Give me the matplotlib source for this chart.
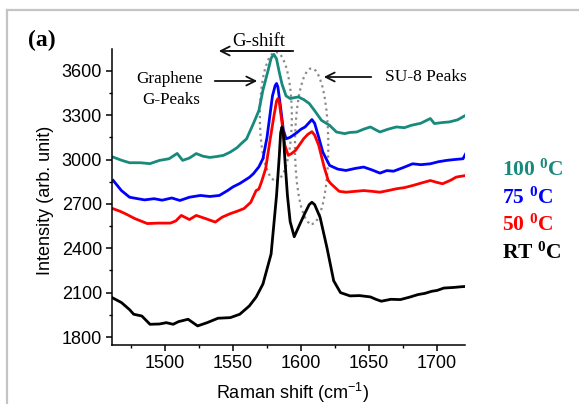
import matplotlib
matplotlib.use("Agg")
import matplotlib.pyplot as plt
from matplotlib.patches import Ellipse
from matplotlib.lines import Line2D
from matplotlib.ticker import MultipleLocator, AutoMinorLocator

plt.rcParams['font.family'] = ['Liberation Sans', 'DejaVu Sans']
plt.rcParams['mathtext.fontset'] = 'custom'
plt.rcParams['mathtext.rm'] = 'Liberation Sans'
plt.rcParams['mathtext.bf'] = 'Liberation Serif:bold'

# Raman spectra (shift in cm-1, intensity in arb. unit)
x_100 = [1462, 1468, 1474, 1482, 1489, 1496, 1503, 1509, 1513, 1518, 1523, 1528, 1533, 1538,
         1543, 1548, 1553, 1556, 1560, 1565, 1569, 1572, 1576, 1578, 1580, 1582, 1584, 1586,
         1589, 1592, 1595, 1598, 1602, 1606, 1610, 1615, 1621, 1626, 1632, 1636, 1641, 1646,
         1651, 1655, 1658, 1664, 1670, 1676, 1681, 1688, 1695, 1698, 1704, 1709, 1715, 1721]
y_100 = [3016, 2995, 2978, 2978, 2972, 2994, 3005, 3041, 2994, 3010, 3040, 3022, 3014, 3020,
         3028, 3050, 3080, 3107, 3140, 3243, 3330, 3469, 3610, 3685, 3711, 3680, 3590, 3510,
         3430, 3412, 3418, 3423, 3405, 3379, 3330, 3265, 3231, 3186, 3175, 3183, 3186, 3205,
         3220, 3200, 3186, 3205, 3220, 3215, 3231, 3245, 3277, 3243, 3250, 3254, 3268, 3299]

x_75 = [1462, 1468, 1474, 1480, 1485, 1492, 1498, 1505, 1511, 1518, 1526, 1533, 1540, 1546,
        1550, 1555, 1562, 1565, 1569, 1572, 1575, 1577, 1579, 1581, 1582, 1583, 1585, 1587,
        1589, 1592, 1597, 1600, 1603, 1606, 1608, 1610, 1613, 1616, 1621, 1627, 1633, 1640,
        1646, 1652, 1658, 1663, 1668, 1675, 1682, 1688, 1695, 1701, 1707, 1713, 1719, 1721]
y_75 = [2858, 2790, 2745, 2735, 2727, 2735, 2725, 2740, 2723, 2745, 2757, 2750, 2757, 2790,
        2815, 2838, 2879, 2904, 2950, 3006, 3150, 3290, 3430, 3500, 3514, 3490, 3350, 3200,
        3140, 3150, 3182, 3205, 3220, 3250, 3270, 3245, 3150, 3050, 2960, 2935, 2926, 2940,
        2949, 2930, 2908, 2925, 2921, 2945, 2971, 2965, 2971, 2985, 2994, 3000, 3005, 3039]

x_50 = [1462, 1467, 1471, 1478, 1487, 1495, 1504, 1508, 1512, 1518, 1523, 1530, 1537, 1542,
        1548, 1553, 1558, 1563, 1567, 1569, 1571, 1574, 1577, 1580, 1582, 1583, 1584, 1586,
        1588, 1590.6, 1593, 1596, 1602, 1605, 1608, 1610, 1613, 1617, 1620, 1622, 1628, 1633,
        1640, 1646, 1652, 1658, 1664, 1670, 1676, 1682, 1688, 1695, 1700, 1704, 1710, 1714, 1721]
y_50 = [2667, 2650, 2633, 2600, 2567, 2570, 2570, 2585, 2622, 2594, 2622, 2600, 2577, 2610,
        2634, 2650, 2668, 2710, 2790, 2800, 2850, 2938, 3118, 3290, 3395, 3412, 3390, 3250,
        3100, 3028, 3040, 3062, 3141, 3170, 3188, 3165, 3096, 2949, 2858, 2836, 2785, 2779,
        2785, 2790, 2785, 2779, 2790, 2802, 2810, 2824, 2840, 2858, 2845, 2836, 2860, 2881, 2892]

x_rt = [1461, 1468, 1474, 1477, 1483, 1489, 1496, 1501, 1506, 1510, 1517, 1524, 1531, 1539,
        1548, 1555, 1562, 1567, 1572, 1578, 1582, 1584, 1585, 1586, 1587, 1588, 1590, 1592,
        1595, 1599, 1603, 1606, 1608, 1610, 1614, 1619, 1624, 1629, 1636, 1643, 1651, 1655,
        1659, 1666, 1673, 1680, 1686, 1691, 1696, 1700, 1705, 1712, 1718, 1723]
y_rt = [2067, 2033, 1985, 1954, 1942, 1886, 1888, 1897, 1886, 1904, 1920, 1875, 1897, 1927,
        1931, 1954, 2010, 2070, 2158, 2361, 2757, 3020, 3180, 3220, 3180, 3020, 2757, 2580,
        2478, 2560, 2640, 2695, 2711, 2695, 2609, 2406, 2180, 2100, 2078, 2080, 2071, 2055,
        2042, 2055, 2053, 2070, 2087, 2095, 2109, 2115, 2131, 2135, 2140, 2143]

labels = ['100', '75', '50', 'RT']
colors = ['#178a7c', '#0000ff', '#ff0000', '#000000']

W, H = 579, 404
fig = plt.figure(figsize=(W / 100, H / 100), dpi=100)
ax = fig.add_axes([112.3 / W, 1 - 345 / H, (465 - 112.3) / W, (345 - 49.3) / H])


def fpos(px, py):
    return px / W, 1 - py / H


for xs, ys, c in zip([x_100, x_75, x_50, x_rt], [y_100, y_75, y_50, y_rt], colors):
    ax.plot(xs, ys, color=c, lw=2.0, solid_joinstyle='round')

# dotted ellipses around the G and SU-8 peaks
ax.add_patch(Ellipse((1581.5, 3292), 23.5, 868, fill=False, ec='#8a8a8a', ls=':', lw=1.6))
ax.add_patch(Ellipse((1607.8, 3090), 24.5, 1052, fill=False, ec='#8a8a8a', ls=':', lw=1.6))

ax.set_xlim(1461.3, 1720.5)
ax.set_ylim(1746, 3745)
ax.xaxis.set_major_locator(MultipleLocator(50))
ax.yaxis.set_major_locator(MultipleLocator(300))
ax.xaxis.set_minor_locator(AutoMinorLocator(2))
ax.yaxis.set_minor_locator(AutoMinorLocator(2))
ax.spines['top'].set_visible(False)
ax.spines['right'].set_visible(False)
for s in ['left', 'bottom']:
    ax.spines[s].set_linewidth(1.1)
ax.tick_params(which='major', direction='out', length=4.5, width=1.1, labelsize=13, pad=3)
ax.tick_params(which='minor', direction='out', length=2.5, width=1.0)

ax.set_xlabel('Raman shift (cm$^{-1}$)', fontsize=13)
ax.set_ylabel('Intensity (arb. unit)', fontsize=13)
ax.xaxis.set_label_coords(0.512, -0.163)
ax.xaxis.label.set_va('center')
ax.yaxis.set_label_coords(-0.19, 0.49)
ax.yaxis.label.set_va('center')

serif = ['Liberation Serif', 'DejaVu Serif']
fig.text(*fpos(42, 40), '(a)', fontsize=17, fontweight='bold', family=serif, ha='center', va='center')
fig.text(*fpos(259, 41), 'G-shift', fontsize=13.5, family=serif, ha='center', va='center')
fig.text(*fpos(170, 79), 'Graphene', fontsize=12.3, family=serif, ha='center', va='center')
fig.text(*fpos(171, 100), 'G-Peaks', fontsize=12.3, family=serif, ha='center', va='center')
fig.text(*fpos(426, 77), 'SU-8 Peaks', fontsize=12.5, family=serif, ha='center', va='center')

arrow = dict(arrowstyle='->', lw=1.3, color='#111111', mutation_scale=16)
fig.add_artist(Line2D([230 / W, 293 / W], [1 - 51 / H] * 2, color='#111111', lw=1.3))
ax.annotate('', xy=fpos(216, 51), xytext=fpos(293, 51), xycoords='figure fraction',
            textcoords='figure fraction', arrowprops=arrow, annotation_clip=False)
ax.annotate('', xy=fpos(260, 81), xytext=fpos(212, 81), xycoords='figure fraction',
            textcoords='figure fraction', arrowprops=arrow, annotation_clip=False)
ax.annotate('', xy=fpos(321, 77), xytext=fpos(374, 77), xycoords='figure fraction',
            textcoords='figure fraction', arrowprops=arrow, annotation_clip=False)

# temperature labels
for i, (lab, c) in enumerate(zip(labels, colors)):
    fig.text(*fpos(502, 175.7 + 27.6 * i), lab + r' $\mathbf{^{0}}$C', color=c, fontsize=15.5,
             fontweight='bold', family=serif, ha='left', va='baseline')

# grey frame on the top and left edges
fig.add_artist(Line2D([7 / W, 7 / W], [0, 1 - 10 / H], color='#c4c4c4', lw=1.6))
fig.add_artist(Line2D([7 / W, 1], [1 - 10 / H] * 2, color='#c4c4c4', lw=1.6))

fig.savefig('out.png', dpi=100)
